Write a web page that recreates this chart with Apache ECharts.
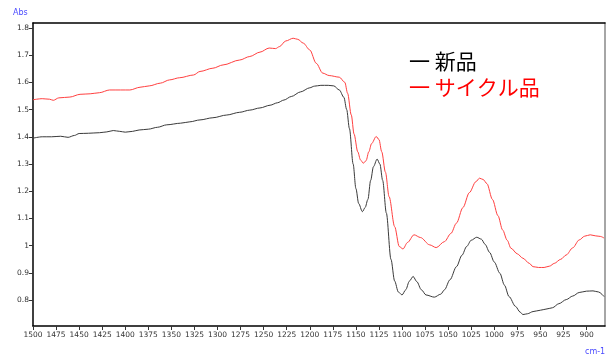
<!DOCTYPE html>
<html>
<head>
<meta charset="utf-8">
<script src="https://cdn.jsdelivr.net/npm/echarts@6/dist/echarts.min.js"></script>
<style>
  html, body { margin: 0; padding: 0; background: #fff; }
  #chart { width: 608px; height: 356px; }
</style>
</head>
<body>
<div id="chart"></div>
<script>
// IR absorbance spectra, wavenumber (cm-1) vs absorbance
const wavenumberTicks = [1500, 1475, 1450, 1425, 1400, 1375, 1350, 1325, 1300, 1275, 1250, 1225, 1200,
  1175, 1150, 1125, 1100, 1075, 1050, 1025, 1000, 975, 950, 925, 900];
const absTicks = [0.8, 0.9, 1.0, 1.1, 1.2, 1.3, 1.4, 1.5, 1.6, 1.7, 1.8];

// 新品 (new)
const newWn = [1500, 1490, 1480, 1470, 1462, 1455, 1450, 1440, 1428, 1420, 1413, 1406, 1400, 1392, 1385, 1375,
  1365, 1355, 1340, 1330, 1319, 1305, 1290, 1276, 1265, 1254, 1243, 1235, 1228, 1220, 1210, 1200, 1195, 1188,
  1180, 1174, 1168, 1163, 1160, 1157, 1153, 1150, 1147, 1143, 1140, 1137, 1134, 1131, 1127, 1124, 1121, 1117,
  1112, 1108, 1104, 1100, 1096, 1092, 1088, 1084, 1079, 1074, 1065, 1058, 1054, 1048, 1041, 1035, 1030, 1025,
  1019, 1014, 1010, 1005, 1000, 994, 989, 984, 977, 972, 969, 964, 958, 950, 944, 937, 930, 922, 915, 908,
  900, 893, 887, 881];
const newAbs = [1.395, 1.400, 1.400, 1.402, 1.398, 1.405, 1.412, 1.413, 1.415, 1.418, 1.423, 1.420, 1.417, 1.420,
  1.425, 1.428, 1.435, 1.444, 1.450, 1.455, 1.462, 1.470, 1.480, 1.490, 1.498, 1.506, 1.516, 1.525, 1.535, 1.548,
  1.565, 1.580, 1.586, 1.589, 1.589, 1.587, 1.572, 1.545, 1.500, 1.430, 1.300, 1.210, 1.155, 1.125, 1.140, 1.170,
  1.240, 1.290, 1.318, 1.300, 1.240, 1.120, 0.950, 0.870, 0.830, 0.819, 0.838, 0.870, 0.887, 0.868, 0.838, 0.819,
  0.811, 0.822, 0.838, 0.875, 0.923, 0.965, 0.997, 1.020, 1.031, 1.024, 1.005, 0.975, 0.940, 0.899, 0.855, 0.813,
  0.777, 0.756, 0.747, 0.750, 0.758, 0.763, 0.767, 0.772, 0.787, 0.802, 0.815, 0.828, 0.833, 0.834, 0.830, 0.813];

// サイクル品 (recycled)
const cycWn = [1500, 1490, 1482, 1478, 1472, 1460, 1449, 1438, 1428, 1417, 1405, 1395, 1384, 1374, 1362, 1352,
  1341, 1326, 1319, 1305, 1294, 1276, 1265, 1254, 1244, 1237, 1233, 1226, 1218, 1213, 1207, 1200, 1193, 1186,
  1179, 1168, 1162, 1159, 1155, 1152, 1148, 1145, 1142, 1139, 1136, 1133, 1128, 1125, 1122, 1118, 1114, 1108,
  1103, 1099, 1094, 1087, 1080, 1070, 1063, 1054, 1047, 1041, 1034, 1027, 1020, 1016, 1012, 1008, 1002, 996,
  991, 986, 982, 975, 969, 962, 958, 952, 946, 940, 935, 928, 922, 915, 908, 902, 896, 890, 885, 881];
const cycAbs = [1.536, 1.540, 1.538, 1.534, 1.543, 1.546, 1.556, 1.558, 1.562, 1.572, 1.572, 1.572, 1.582, 1.587,
  1.597, 1.609, 1.617, 1.627, 1.640, 1.652, 1.664, 1.682, 1.695, 1.711, 1.726, 1.724, 1.731, 1.752, 1.762, 1.758,
  1.744, 1.719, 1.670, 1.634, 1.625, 1.619, 1.600, 1.560, 1.480, 1.410, 1.345, 1.315, 1.303, 1.312, 1.345, 1.375,
  1.401, 1.390, 1.345, 1.270, 1.180, 1.070, 0.997, 0.988, 1.012, 1.040, 1.030, 1.003, 0.993, 1.015, 1.045, 1.083,
  1.140, 1.195, 1.235, 1.248, 1.243, 1.228, 1.170, 1.110, 1.058, 1.020, 0.991, 0.970, 0.954, 0.935, 0.923, 0.920,
  0.920, 0.925, 0.935, 0.950, 0.966, 0.992, 1.021, 1.035, 1.040, 1.036, 1.034, 1.028];

const seriesNames = ['新品', 'サイクル品'];

const X_MIN = 880, X_MAX = 1500, Y_MIN = 0.705, Y_MAX = 1.818;
const labelFont = { fontFamily: 'DejaVu Sans', fontSize: 7.5, color: '#333' };
const plain = v => String(v);

const zip = (xs, ys) => xs.map((x, i) => [x, ys[i]]);

const chart = echarts.init(document.getElementById('chart'), null, { renderer: 'canvas' });
chart.setOption({
  animation: false,
  backgroundColor: '#fff',
  grid: { left: 33, right: 3, top: 23, bottom: 30, containLabel: false },
  xAxis: [
    {
      type: 'value', inverse: true, min: X_MIN, max: X_MAX,
      axisLine: { show: true, lineStyle: { color: '#000', width: 1.5 } },
      axisTick: { show: true, length: 4, lineStyle: { color: '#333' }, customValues: wavenumberTicks },
      axisLabel: Object.assign({ margin: 5, customValues: wavenumberTicks, formatter: plain }, labelFont),
      splitLine: { show: false }
    },
    {
      type: 'value', inverse: true, min: X_MIN, max: X_MAX, position: 'top',
      axisLine: { show: true, lineStyle: { color: '#000', width: 1.5 } },
      axisTick: { show: false }, axisLabel: { show: false }, splitLine: { show: false }
    }
  ],
  yAxis: [
    {
      type: 'value', min: Y_MIN, max: Y_MAX,
      axisLine: { show: true, lineStyle: { color: '#000', width: 1.5 } },
      axisTick: { show: true, length: 4, lineStyle: { color: '#333' }, customValues: absTicks },
      axisLabel: Object.assign({ margin: 4, customValues: absTicks, formatter: plain }, labelFont),
      splitLine: { show: false }
    },
    {
      type: 'value', min: Y_MIN, max: Y_MAX, position: 'right',
      axisLine: { show: true, lineStyle: { color: '#888', width: 1.5 } },
      axisTick: { show: false }, axisLabel: { show: false }, splitLine: { show: false }
    }
  ],
  series: [
    {
      name: seriesNames[1], type: 'line', data: zip(cycWn, cycAbs),
      showSymbol: false, smooth: 0.3, smoothMonotone: 'x',
      lineStyle: { color: '#ff4040', width: 1 }, z: 2
    },
    {
      name: seriesNames[0], type: 'line', data: zip(newWn, newAbs),
      showSymbol: false, smooth: 0.3, smoothMonotone: 'x',
      lineStyle: { color: '#3a3a3a', width: 1 }, z: 3
    }
  ],
  graphic: [
    { type: 'text', left: 13, top: 9, style: { text: 'Abs', fill: '#4a4aff', font: '8px DejaVu Sans' } },
    { type: 'text', left: 585, top: 348, style: { text: 'cm-1', fill: '#4a4aff', font: '8px DejaVu Sans' } },
    { type: 'text', left: 409, top: 51, style: { text: '一 ' + seriesNames[0], fill: '#000', font: '21px "Noto Sans CJK JP"' } },
    { type: 'text', left: 409, top: 77, style: { text: '一 ' + seriesNames[1], fill: '#ff0000', font: '21px "Noto Sans CJK JP"' } }
  ]
});
</script>
</body>
</html>
